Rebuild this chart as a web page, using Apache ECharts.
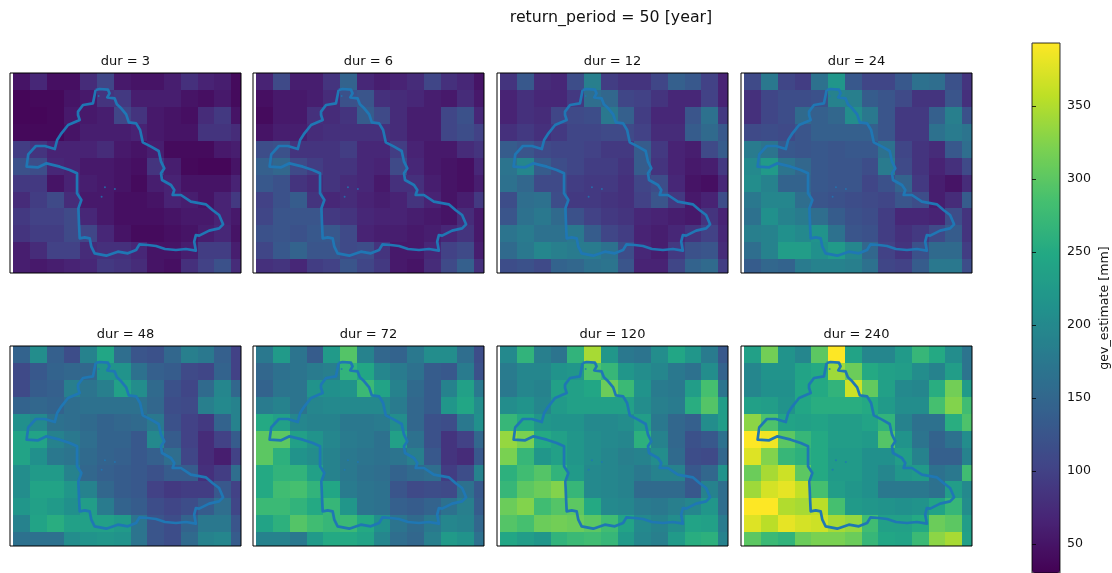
<!DOCTYPE html>
<html><head><meta charset="utf-8">
<style>html,body{margin:0;padding:0;background:#fff}#c{width:1112px;height:573px}</style>
<script src="https://cdn.jsdelivr.net/npm/echarts@6/dist/echarts.min.js"></script>
</head><body><div id="c"></div>
<script>
const durations = [3, 6, 12, 24, 48, 72, 120, 240];
const dur3 = [
[50,70,45,45,75,105,55,50,50,60,80,65,60,40],
[35,38,38,50,55,85,90,60,60,60,50,45,55,40],
[35,35,38,55,55,60,105,85,55,50,45,75,90,50],
[38,38,38,50,60,60,60,65,55,50,50,85,85,75],
[95,85,65,65,65,75,55,50,60,40,40,40,55,60],
[120,115,70,65,55,55,50,45,85,60,38,35,35,50],
[90,90,50,65,60,55,50,40,60,65,50,50,50,65],
[75,95,110,75,55,55,45,45,50,65,60,50,65,90],
[90,100,100,110,70,55,45,45,45,50,55,55,65,55],
[85,95,95,110,105,70,50,40,40,45,50,60,70,50],
[60,75,100,100,75,80,80,70,50,50,60,95,95,60],
[60,55,60,65,70,90,85,75,50,45,80,100,120,75]];
const dur6 = [
[65,110,60,60,85,145,70,60,65,75,105,80,70,50],
[45,55,55,60,75,120,125,80,75,70,60,55,75,55],
[40,55,55,80,75,85,135,110,75,60,60,105,120,70],
[50,60,60,75,80,80,80,80,75,60,60,105,115,100],
[115,120,85,85,85,95,70,70,95,65,55,55,75,85],
[140,150,110,95,85,85,70,65,110,70,55,50,45,70],
[130,120,85,75,85,75,70,55,80,80,60,50,45,60],
[100,120,135,85,70,75,65,60,65,85,65,50,60,90],
[105,125,125,125,90,85,70,65,65,60,55,50,75,55],
[120,125,120,130,130,110,65,60,60,55,60,70,85,55],
[105,130,145,125,125,110,115,85,55,55,70,100,110,60],
[80,85,70,95,100,125,105,90,55,50,75,110,140,80]];
const dur12 = [
[85,130,75,70,115,185,95,85,85,105,140,130,100,65],
[65,80,70,70,90,160,150,105,100,85,70,70,100,65],
[65,80,75,105,110,115,175,140,95,70,70,125,165,90],
[80,90,80,90,105,105,110,110,100,75,75,135,155,130],
[135,125,110,105,105,100,90,90,135,90,65,60,110,135],
[170,195,135,115,105,95,95,85,135,85,65,55,60,90],
[165,150,110,110,95,90,90,80,105,115,70,50,45,70],
[115,160,165,115,90,90,85,80,100,125,90,55,65,115],
[125,165,175,155,120,100,90,85,70,65,60,55,85,65],
[170,180,165,165,175,135,105,95,65,60,70,85,100,70],
[155,175,195,185,180,180,165,115,70,60,90,120,125,75],
[115,120,110,145,150,165,170,125,65,65,105,145,155,95]];
const dur24 = [
[110,175,105,95,165,220,130,105,105,130,165,160,120,85],
[80,105,115,115,120,190,185,135,125,110,85,85,125,80],
[80,105,115,155,140,150,205,175,125,90,90,140,185,120],
[110,115,110,125,140,140,140,140,125,90,90,165,180,170],
[180,170,130,125,130,125,130,130,165,105,85,75,130,160],
[200,225,170,150,130,125,125,115,180,110,85,65,80,110],
[205,190,145,145,130,125,125,105,120,145,90,60,50,75],
[175,195,195,160,125,120,115,110,105,125,115,60,75,135],
[165,210,190,180,160,135,120,115,95,70,70,65,115,85],
[185,190,210,200,215,165,125,120,95,80,90,110,135,85],
[160,190,230,230,210,225,195,150,100,85,120,155,155,95],
[135,150,145,180,190,190,185,165,105,100,135,175,175,115]];
const dur48 = [
[145,205,140,115,190,245,160,125,120,150,185,175,140,100],
[110,130,145,150,150,215,215,165,140,135,110,105,145,100],
[110,135,140,185,170,185,235,205,155,120,105,155,195,150],
[145,150,145,160,165,165,165,165,150,115,110,185,200,190],
[210,200,165,160,155,145,150,155,175,120,100,90,145,190],
[240,240,190,175,160,145,145,130,200,135,100,75,100,135],
[240,210,175,170,155,145,140,130,140,160,105,75,60,100],
[205,225,225,190,150,140,135,130,120,135,135,80,95,160],
[205,240,240,220,190,150,135,130,100,90,95,95,130,100],
[220,235,225,210,230,180,145,135,115,105,115,135,160,105],
[190,240,255,235,235,235,225,170,125,115,145,175,175,125],
[165,165,165,205,215,220,215,170,125,115,155,190,195,135]];
const dur72 = [
[175,225,170,135,225,295,190,150,145,175,205,205,160,115],
[150,165,170,180,185,265,245,195,180,165,135,130,180,120],
[145,170,170,215,210,215,275,240,190,155,135,190,235,175],
[180,190,170,195,200,200,200,200,180,150,135,220,245,205],
[250,235,195,190,190,175,175,180,205,150,120,115,175,210],
[300,300,235,215,195,180,175,165,235,165,120,85,100,150],
[300,260,215,205,190,175,170,165,170,185,130,85,75,130],
[250,265,265,235,190,175,165,160,145,155,160,95,115,190],
[250,280,285,265,245,180,170,165,125,110,115,110,165,130],
[275,275,265,250,270,220,170,165,140,135,145,165,185,135],
[240,260,295,280,270,275,250,210,170,155,175,195,190,150],
[190,190,175,225,250,250,240,195,160,150,185,225,215,165]];
const dur120 = [
[200,265,185,170,265,345,220,175,170,205,245,220,180,130],
[180,195,195,215,220,290,270,220,205,195,175,165,205,145],
[175,195,190,235,235,245,310,275,215,180,175,230,285,170],
[205,215,195,225,235,235,235,235,205,185,180,255,295,230],
[270,250,220,215,215,200,200,205,230,175,150,140,205,230],
[335,320,250,235,220,205,200,195,260,190,150,120,130,165],
[320,270,220,235,220,205,195,185,190,205,155,115,110,150],
[260,280,295,265,225,200,195,190,175,190,190,130,150,215],
[270,300,310,325,270,200,195,190,155,155,155,130,190,160],
[310,325,280,295,300,250,200,195,180,175,185,195,220,160],
[295,285,310,315,310,300,280,240,200,190,205,240,235,180],
[245,230,220,265,275,280,270,225,195,185,225,255,260,190]];
const dur240 = [
[235,315,215,195,300,393,240,195,195,225,270,250,205,170],
[195,215,215,240,250,340,310,250,235,230,205,190,230,170],
[195,210,210,245,250,265,365,305,235,200,195,255,315,225],
[235,230,215,245,255,255,255,250,225,205,205,285,325,280],
[330,290,240,235,240,230,230,240,265,190,165,165,255,290],
[393,385,300,270,250,230,230,225,295,215,170,145,165,205],
[375,325,270,260,250,225,225,210,210,230,190,140,140,190],
[310,345,365,300,250,225,225,210,195,220,225,165,175,280],
[340,370,380,360,285,230,220,210,175,175,175,165,230,200],
[393,393,350,345,355,285,225,220,215,210,215,240,270,205],
[375,355,380,370,365,345,335,280,235,235,250,310,300,230],
[300,275,265,310,320,320,310,270,245,240,275,330,345,235]];
const panelValues = [dur3, dur6, dur12, dur24, dur48, dur72, dur120, dur240];

// catchment boundary and small inner patches, in map units
const boundaryX = [258,270,295,300,293,315,322,335,350,358,380,392,400,425,448,455,465,455,458,485,495,490,515,545,590,610,630,642,630,600,570,560,555,560,530,500,467,440,415,390,380,355,325,290,255,245,240,225,210,208,206,215,202,202,180,150,110,85,50,55,78,105,135,142,155,175,210,205,205,220,250,258];
const boundaryY = [51,48,50,61,73,76,94,106,124,148,151,171,208,221,234,266,286,301,321,336,351,366,366,386,394,411,426,454,466,473,488,486,506,533,528,531,528,519,516,514,531,541,536,548,541,521,496,493,496,456,406,381,361,301,291,281,271,283,281,244,219,219,228,201,181,156,141,126,116,96,91,51];
const patchX = [286,316,276,267];
const patchY = [343,348,371,69];

const viridis = ['#440154','#482475','#414487','#355f8d','#2a788e','#21918c','#22a884','#44bf70','#7ad151','#bddf26','#fde725'];
const colorbarTicks = [50,100,150,200,250,300,350];
const colorMin = 30, colorMax = 393;
const mapW = 696, mapH = 600, cellW = 50.45, cellH = 50.6, originX = 10, originY = 1.4;
const panelLeft = [10,253,497,741], panelTop = [73,346], panelW = 231, panelH = 200;
const font = 'DejaVu Sans';

const grid=[], xAxis=[], yAxis=[], series=[], title=[];
title.push({text:'return_period = 50 [year]',left:611,top:10,padding:0,textAlign:'center',
  textStyle:{fontFamily:font,fontSize:15.8,fontWeight:'normal',color:'#111'}});
durations.forEach((d,i)=>{
  const L=panelLeft[i%4], T=panelTop[i<4?0:1];
  grid.push({left:L,top:T,width:panelW,height:panelH,show:false});
  xAxis.push({type:'value',gridIndex:i,min:0,max:mapW,show:false});
  yAxis.push({type:'value',gridIndex:i,min:0,max:mapH,inverse:true,show:false});
  title.push({text:'dur = '+d,left:L+panelW/2,top:T-18,padding:0,textAlign:'center',
    textStyle:{fontFamily:font,fontSize:13,fontWeight:'normal',color:'#111'}});
  const cells=[];
  panelValues[i].forEach((row,r)=>row.forEach((v,c)=>cells.push([c,r,v])));
  series.push({type:'custom',xAxisIndex:i,yAxisIndex:i,clip:true,silent:true,z:2,
    encode:{x:0,y:1},data:cells,
    renderItem:(p,api)=>{
      const c=api.value(0), r=api.value(1);
      const a=api.coord([originX+c*cellW,originY+r*cellH]);
      const b=api.coord([originX+(c+1)*cellW,originY+(r+1)*cellH]);
      const col=api.visual('color');
      const g=p.coordSys;
      const x0=Math.round(Math.max(a[0],g.x)), x1=Math.round(Math.min(b[0],g.x+g.width));
      const y0=Math.round(Math.max(a[1],g.y)), y1=Math.round(Math.min(b[1],g.y+g.height));
      return {type:'rect',shape:{x:x0,y:y0,width:x1-x0,height:y1-y0},
        style:{fill:col}};
    }});
  series.push({type:'line',xAxisIndex:i,yAxisIndex:i,silent:true,z:3,symbol:'none',smooth:false,
    data:boundaryX.map((x,k)=>[x,boundaryY[k]]),
    lineStyle:{color:'#1f77b4',width:2.7,join:'round'}});
  series.push({type:'scatter',xAxisIndex:i,yAxisIndex:i,silent:true,z:3,symbolSize:2,
    data:patchX.map((x,k)=>[x,patchY[k]]),itemStyle:{color:'#1f77b4'}});
  series.push({type:'line',xAxisIndex:i,yAxisIndex:i,silent:true,z:4,symbol:'none',clip:false,
    data:[[0,0],[mapW,0],[mapW,mapH],[0,mapH],[0,0]],
    lineStyle:{color:'#000',width:1}});
});
// colourbar axis
grid.push({left:1032,top:43,width:28,height:530,show:true,backgroundColor:'transparent',borderColor:'#000',borderWidth:0.8,z:10});
xAxis.push({type:'value',gridIndex:8,min:0,max:1,show:false});
yAxis.push({type:'value',gridIndex:8,min:colorMin,max:colorMax,position:'right',scale:true,z:10,
  axisLine:{show:false},splitLine:{show:false},
  axisTick:{show:true,length:4,customValues:colorbarTicks,lineStyle:{color:'#000',width:0.8}},
  axisLabel:{show:true,margin:7,customValues:colorbarTicks,fontFamily:font,fontSize:12.6,color:'#111'},
  name:'gev_estimate [mm]',nameLocation:'middle',nameRotate:90,nameGap:38,
  nameTextStyle:{fontFamily:font,fontSize:12.6,color:'#111'}});
series.push({type:'line',xAxisIndex:8,yAxisIndex:8,data:[],silent:true});

const chart=echarts.init(document.getElementById('c'),null,{renderer:'canvas'});
chart.setOption({
  animation:false,backgroundColor:'#fff',title,grid,xAxis,yAxis,series,
  visualMap:[{type:'continuous',min:colorMin,max:colorMax,dimension:2,
    seriesIndex:durations.map((d,i)=>i*4),
    left:1032,top:43,itemWidth:28,itemHeight:530,showLabel:false,text:null,
    calculable:false,realtime:false,hoverLink:false,padding:0,
    inRange:{color:viridis}}]
});
</script></body></html>
